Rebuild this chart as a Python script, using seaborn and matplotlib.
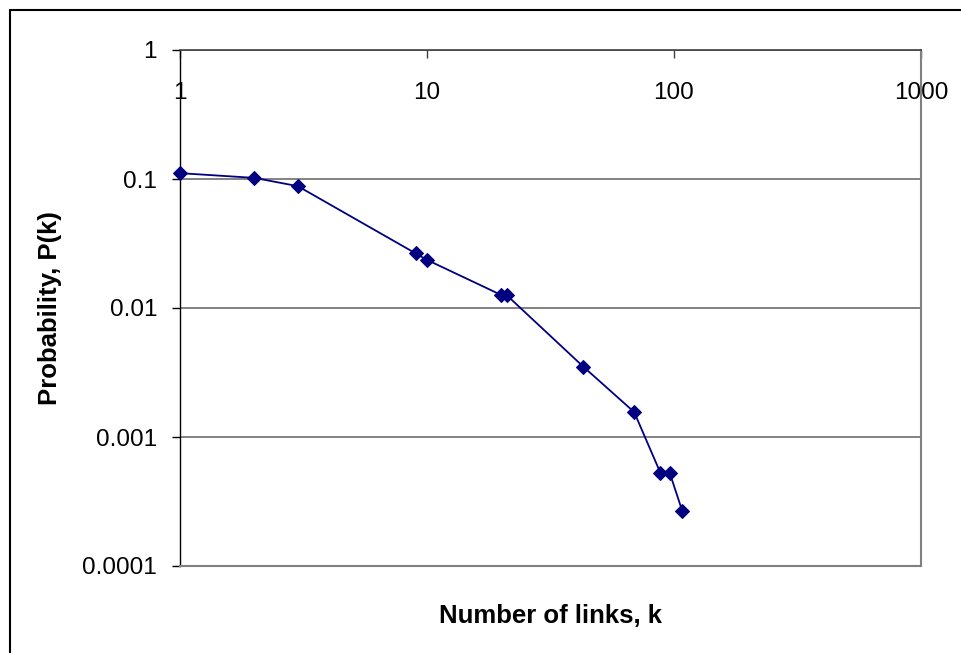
import matplotlib
matplotlib.use('Agg')
import matplotlib.pyplot as plt
from matplotlib.lines import Line2D
import seaborn as sns

# 数据
links_k = [1, 2, 3, 9, 10, 20, 21, 43, 69, 88, 96, 108]
prob_pk = [0.111, 0.102, 0.088, 0.0265, 0.0236, 0.0126, 0.0126,
           0.0035, 0.00156, 0.00053, 0.00053, 0.000267]

x_ticks = [1, 10, 100, 1000]
x_tick_labels = ['1', '10', '100', '1000']
y_ticks = [1, 0.1, 0.01, 0.001, 0.0001]
y_tick_labels = ['1', '0.1', '0.01', '0.001', '0.0001']

sns.set_style('white')
plt.rcParams['font.family'] = ['Liberation Sans', 'DejaVu Sans']
plt.rcParams['text.color'] = 'black'
plt.rcParams['axes.labelcolor'] = 'black'

W, H = 962, 653
fig = plt.figure(figsize=(W / 100, H / 100), dpi=100)
ax = fig.add_axes([180 / W, 1 - 566 / H, (921 - 180) / W, (566 - 50) / H])

ax.set_xscale('log')
ax.set_yscale('log')

sns.lineplot(x=links_k, y=prob_pk, ax=ax, sort=False, errorbar=None,
             color='#000080', linewidth=1.3, marker='D', markersize=7.5,
             markeredgecolor='#000080', markerfacecolor='#000080',
             clip_on=False, zorder=5)

ax.set_xlim(1, 1000)
ax.set_ylim(0.0001, 1)
ax.minorticks_off()

ax.set_xticks(x_ticks, labels=x_tick_labels)
ax.set_yticks(y_ticks, labels=y_tick_labels)

# x 轴在顶部 (Excel 风格: 轴在 y=1 处相交), 标签在轴线下方
ax.tick_params(axis='x', top=True, bottom=False, labeltop=True, labelbottom=False,
               direction='in', length=5.8, width=1, color='#404040',
               labelcolor='black', pad=-39, labelsize=17.5)
ax.tick_params(axis='y', left=True, direction='out', length=5.5, width=1,
               color='black', labelcolor='black', pad=11, labelsize=17.5)

ax.yaxis.grid(True, color='#606060', linewidth=1.1)
ax.xaxis.grid(False)

ax.spines['left'].set_color('black')
ax.spines['left'].set_linewidth(1.0)
ax.spines['top'].set_color('#404040')
ax.spines['top'].set_linewidth(1.2)
for s in ['right', 'bottom']:
    ax.spines[s].set_color('#808080')
    ax.spines[s].set_linewidth(1.5)

ax.set_xlabel('Number of links, k', fontsize=18.5, fontweight='bold',
              va='center', color='black')
ax.xaxis.set_label_coords(0.5, -0.097)
ax.set_ylabel('Probability, P(k)', fontsize=18.5, fontweight='bold',
              va='center', color='black')
ax.yaxis.set_label_coords((50 - 180) / 741, 0.5)

# 外框 (只有上边和左边在画面内)
bx, by = 9.5 / W, 1 - 9.5 / H
fig.add_artist(Line2D([bx, 1], [by, by], color='black', linewidth=1.5))
fig.add_artist(Line2D([bx, bx], [0, by], color='black', linewidth=1.5))

fig.savefig('out.png', dpi=100, facecolor='white')
plt.close(fig)
